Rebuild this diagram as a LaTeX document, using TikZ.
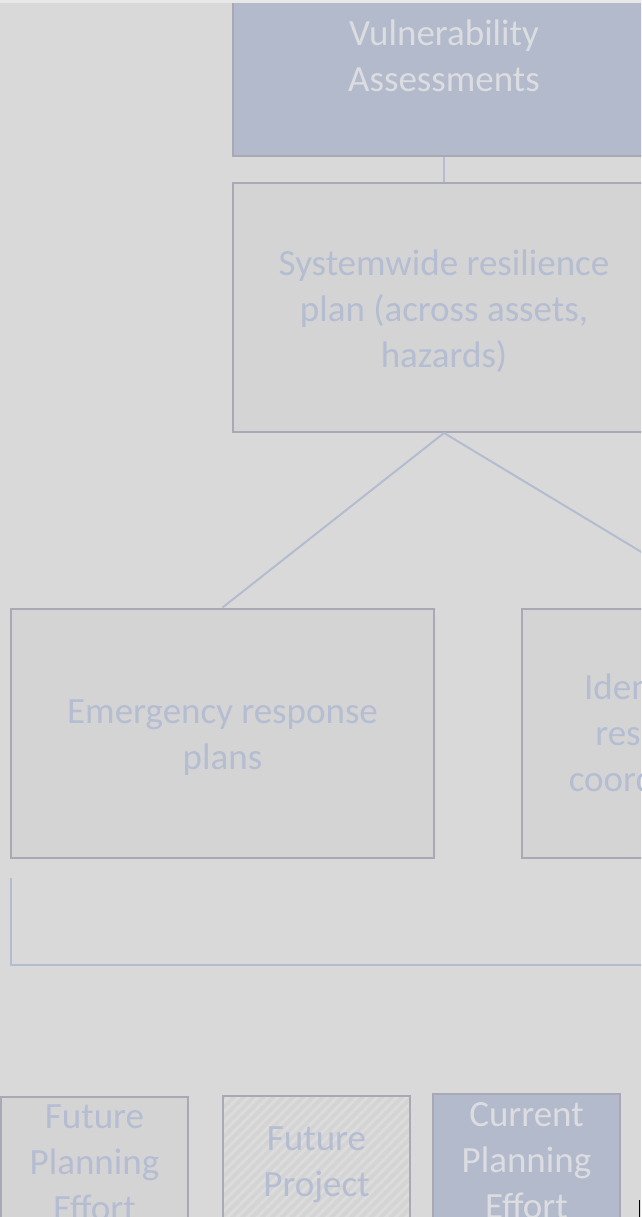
\documentclass[tikz,border=0pt]{standalone}
\usepackage{fontspec}
\setmainfont{Carlito}
\usetikzlibrary{positioning,patterns.meta}

\definecolor{bgGray}{HTML}{D9D9D9}
\definecolor{boxGray}{HTML}{D4D4D4}
\definecolor{hatchGray}{HTML}{DCDCDC}
\definecolor{edgeGray}{HTML}{A8A9B4}
\definecolor{lineBlue}{HTML}{B4BCD0}
\definecolor{txtBlue}{HTML}{B5BDD2}
\definecolor{fillBlue}{HTML}{B3BACC}
\definecolor{txtLight}{HTML}{DCDDE1}

\begin{document}
\begin{tikzpicture}[x=1pt, y=-1pt,
    planbox/.style = {draw=edgeGray, line width=2pt, fill=boxGray, text=txtBlue,
        align=center, inner sep=0pt, minimum width=423pt, minimum height=249pt,
        font=\fontsize{37}{46}\selectfont},
    currentbox/.style = {planbox, fill=fillBlue, text=txtLight},
    keybox/.style = {planbox, minimum width=187pt, minimum height=132pt},
    link/.style = {draw=lineBlue, line width=2pt}]

    \useasboundingbox (0,0) rectangle (641,1217);
    \clip (0,0) rectangle (641,1217);
    \fill[bgGray] (0,0) rectangle (641,1217);

    % chain of plans
    \node[currentbox] (vuln) at (444,31.5) {};
    \node[planbox] (system) at (444,307.5) {};
    \node[planbox] (emergency) at (222.5,733) {};
    \node[planbox] (identify) at (733.5,733) {};

    \node[currentbox, draw=none, fill=none, minimum size=0pt] (vulnText) at ([yshift=-24pt]vuln.center)
        {Vulnerability\\Assessments};
    \node[planbox, draw=none, fill=none, minimum size=0pt] (systemText) at ([yshift=-4pt]system.center)
        {Systemwide resilience\\plan (across assets,\\hazards)};
    \node[planbox, draw=none, fill=none, minimum size=0pt] (emergencyText) at ([yshift=-5pt]emergency.center)
        {Emergency response\\plans};
    \node[planbox, draw=none, fill=none, minimum size=0pt] (identifyText) at ([yshift=-3pt]identify.center)
        {Identify interagency\\responsibilities for\\coordination planning};

    \draw[link] (vuln.south) -- (system.north);
    \draw[link] (system.south) -- (emergency.north);
    \draw[link] (system.south) -- (identify.north);

    % bracket under the plans
    \coordinate (brTop) at (11,878);
    \coordinate (brEnd) at (700,965);
    \draw[link] (brTop) |- (brEnd);

    % key
    \node[keybox] (futurePlan) at (94.5,1163) {Future\\Planning\\Effort};
    \node[keybox, preaction={fill=boxGray},
        pattern={Lines[angle=45, distance=7pt, line width=3pt]}, pattern color=hatchGray]
        (futureProj) at (316.5,1162) {};
    \node[keybox, draw=none, fill=none, minimum size=0pt] (futureProjText)
        at ([yshift=-3pt]futureProj.center) {Future\\Project};
    \node[keybox, currentbox, minimum width=187pt, minimum height=134pt]
        (current) at (526.5,1161) {Current\\Planning\\Effort};

    \fill[bgGray!60!white] (0,0) rectangle (641,3);
    \draw[black, line width=1pt] (639,1200) -- (639,1217);

\end{tikzpicture}
\end{document}
